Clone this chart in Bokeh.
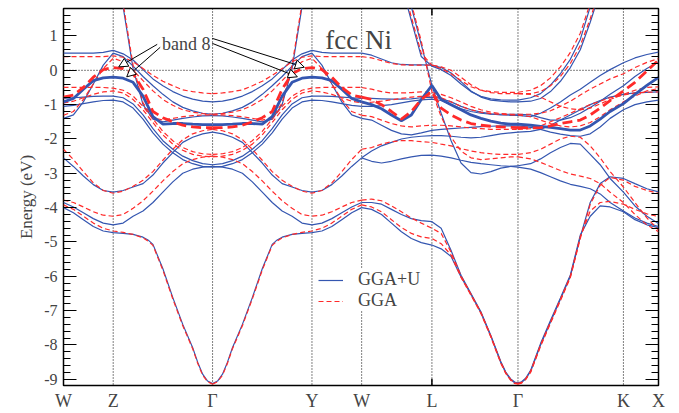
from bokeh.plotting import figure
from bokeh.models import (Range1d, LinearAxis, FixedTicker, SingleIntervalTicker, Span,
                          Legend, LegendItem, Label, Arrow, NormalHead, ColumnDataSource)
from bokeh.embed import file_html
from bokeh.resources import INLINE

# ---------------- data ----------------
SYM_LABELS = ["W", "Z", "Γ", "Y", "W", "L", "Γ", "K", "X"]
SYM_K = [0.0, 0.5, 1.5, 2.5, 3.0, 3.707, 4.573, 5.634, 5.987]
E_MIN, E_MAX = -9.18, 1.80
Y_TICKS = list(range(-9, 2))

# k grids of the four path segments (d bands)
K_WZG = [0.0, 0.1, 0.2, 0.3, 0.4, 0.5, 0.6, 0.7, 0.8, 0.9, 1.0, 1.1, 1.2, 1.3, 1.4, 1.5]
K_GYW = [1.5, 1.6, 1.7, 1.8, 1.9, 2.0, 2.1, 2.2, 2.3, 2.4, 2.5, 2.6, 2.7, 2.8, 2.9, 3.0]
K_WLG = [3.0, 3.1, 3.2, 3.3, 3.4, 3.5, 3.6, 3.707, 3.8, 3.9, 4.0, 4.1, 4.2, 4.3, 4.4, 4.5, 4.573]
K_GKX = [4.573, 4.7, 4.8, 4.9, 5.0, 5.1, 5.2, 5.3, 5.4, 5.5, 5.634, 5.75, 5.87, 5.987]

# finer k grids for the s-like bands with the deep minimum at Gamma
KS_WZG = [0.0, 0.1, 0.2, 0.3, 0.4, 0.5, 0.6, 0.7, 0.8, 0.85, 0.9, 1.0, 1.1, 1.2, 1.3, 1.35, 1.4, 1.45, 1.5]
KS_GYW = [1.5, 1.55, 1.6, 1.65, 1.7, 1.8, 1.9, 2.0, 2.1, 2.15, 2.2, 2.3, 2.4, 2.5, 2.6, 2.7, 2.8, 2.9, 3.0]
KS_WLG = [3.0, 3.1, 3.2, 3.3, 3.4, 3.5, 3.6, 3.707, 3.8, 3.9, 4.0, 4.1, 4.2, 4.3, 4.4, 4.45, 4.5, 4.54, 4.573]
KS_GKX = [4.573, 4.61, 4.65, 4.7, 4.8, 4.9, 5.0, 5.1, 5.2, 5.3, 5.4, 5.5, 5.634, 5.75, 5.87, 5.987]

# ---- GGA+U bands (eV) ----
GGAU_WZG = [
    [0.50, 0.50, 0.50, 0.50, 0.52, 0.58, 0.48, 0.30, 0.02, -0.25, -0.45, -0.62, -0.75, -0.84, -0.90, -0.92],
    [-1.40, -1.30, -0.92, -0.40, 0.15, 0.50, 0.40, 0.12, -0.18, -0.45, -0.70, -0.92, -1.08, -1.18, -1.25, -1.28],
    [-0.82, -0.80, -0.78, -0.76, -0.75, -0.75, -0.80, -0.98, -1.30, -1.70, -2.05, -2.30, -2.50, -2.63, -2.72, -2.75],
    [-1.05, -1.02, -0.97, -0.92, -0.88, -0.87, -0.92, -1.10, -1.42, -1.82, -2.15, -2.40, -2.60, -2.72, -2.80, -2.82],
    [-2.55, -2.80, -3.08, -3.33, -3.50, -3.55, -3.50, -3.40, -3.30, -3.05, -2.70, -2.40, -2.10, -1.95, -1.85, -1.80],
    [-3.85, -3.98, -4.15, -4.32, -4.45, -4.50, -4.45, -4.25, -4.10, -3.85, -3.55, -3.25, -3.00, -2.88, -2.82, -2.80],
    [5.0, 5.0, 5.0, 5.0, 4.5, 3.5, 1.85, 0.05, -1.00, -1.42, -1.50, -1.45, -1.40, -1.36, -1.33, -1.32],
]
GGAU8_WZG = [-0.92, -0.82, -0.55, -0.30, -0.22, -0.20, -0.23, -0.35, -0.75, -1.35, -1.57, -1.55, -1.55, -1.57, -1.58, -1.58]
GGAUS_WZG = [
    [-4.00, -4.15, -4.35, -4.55, -4.68, -4.73, -4.75, -4.78, -4.86, -4.94, -5.07, -5.78, -6.62, -7.40, -8.08, -8.50, -8.85, -9.05, -9.12],
]

GGAU_GYW = [
    [-0.92, -0.90, -0.84, -0.75, -0.62, -0.45, -0.25, 0.02, 0.30, 0.48, 0.58, 0.52, 0.50, 0.50, 0.50, 0.50],
    [-1.28, -1.25, -1.18, -1.08, -0.92, -0.70, -0.45, -0.18, 0.12, 0.40, 0.50, 0.15, -0.40, -0.92, -1.30, -1.40],
    [-2.75, -2.72, -2.63, -2.50, -2.30, -2.05, -1.70, -1.30, -0.98, -0.80, -0.75, -0.75, -0.76, -0.78, -0.80, -0.82],
    [-2.82, -2.80, -2.72, -2.60, -2.40, -2.15, -1.82, -1.42, -1.10, -0.92, -0.87, -0.88, -0.92, -0.97, -1.02, -1.05],
    [-1.80, -1.85, -1.95, -2.10, -2.40, -2.70, -3.05, -3.30, -3.40, -3.50, -3.55, -3.50, -3.33, -3.08, -2.80, -2.55],
    [-2.80, -2.82, -2.88, -3.00, -3.25, -3.55, -3.85, -4.10, -4.25, -4.45, -4.50, -4.45, -4.32, -4.15, -3.98, -3.85],
    [-1.32, -1.33, -1.36, -1.40, -1.45, -1.50, -1.42, -1.00, 0.05, 1.85, 3.5, 4.5, 5.0, 5.0, 5.0, 5.0],
]
GGAU8_GYW = [-1.58, -1.58, -1.57, -1.55, -1.55, -1.57, -1.35, -0.75, -0.35, -0.23, -0.20, -0.22, -0.30, -0.55, -0.82, -0.92]
GGAUS_GYW = [
    [-9.12, -9.05, -8.85, -8.50, -8.08, -7.40, -6.62, -5.78, -5.07, -4.94, -4.86, -4.78, -4.75, -4.73, -4.68, -4.55, -4.35, -4.15, -4.00],
]

GGAU_WLG = [
    [0.50, 0.44, 0.33, 0.22, 0.17, 0.16, 0.16, 0.15, 0.08, -0.08, -0.33, -0.60, -0.78, -0.87, -0.90, -0.92, -0.92],
    [5.0, 5.0, 5.0, 3.60, 2.50, 1.45, 0.40, 0.12, 0.02, -0.15, -0.40, -0.62, -0.76, -0.83, -0.86, -0.87, -0.87],
    [5.0, 5.0, 5.0, 4.00, 2.90, 1.85, 0.75, -0.44, -1.25, -2.05, -2.70, -2.98, -3.02, -2.95, -2.85, -2.80, -2.78],
    [-0.82, -0.82, -0.83, -0.84, -0.84, -0.83, -0.80, -0.78, -0.82, -0.92, -1.05, -1.15, -1.22, -1.27, -1.30, -1.31, -1.31],
    [-1.05, -1.05, -1.03, -1.00, -0.95, -0.90, -0.86, -0.84, -0.88, -1.00, -1.12, -1.20, -1.25, -1.28, -1.28, -1.28, -1.28],
    [-1.40, -1.45, -1.60, -1.75, -1.85, -1.88, -1.82, -1.75, -1.72, -1.70, -1.68, -1.66, -1.64, -1.63, -1.62, -1.62, -1.62],
    [-2.55, -2.35, -2.20, -2.10, -2.00, -1.95, -1.92, -1.90, -1.90, -1.92, -1.95, -1.97, -1.95, -1.90, -1.85, -1.82, -1.80],
    [-2.55, -2.65, -2.70, -2.65, -2.58, -2.52, -2.48, -2.47, -2.50, -2.55, -2.62, -2.68, -2.72, -2.75, -2.78, -2.80, -2.82],
]
GGAU8_WLG = [-0.92, -1.00, -1.12, -1.30, -1.47, -1.30, -0.85, -0.44, -0.85, -1.00, -1.15, -1.30, -1.40, -1.48, -1.54, -1.57, -1.57]
GGAUS_WLG = [
    [-3.85, -3.85, -3.90, -4.05, -4.20, -4.32, -4.38, -4.41, -4.60, -5.25, -5.97, -6.50, -7.03, -7.72, -8.48, -8.79, -8.99, -9.08, -9.10],
    [-4.00, -4.05, -4.20, -4.45, -4.70, -4.90, -5.02, -5.09, -5.20, -5.42, -6.02, -6.53, -7.06, -7.75, -8.51, -8.81, -9.01, -9.10, -9.12],
]

GGAU_GKX = [
    [-0.87, -0.80, -0.68, -0.43, -0.10, 0.32, 0.90, 1.85, 2.8, 3.6, 4.5, 5.0, 5.0, 5.0],
    [-0.92, -0.90, -0.82, -0.62, -0.32, 0.08, 0.60, 1.40, 2.3, 3.2, 4.2, 5.0, 5.0, 5.0],
    [-1.31, -1.35, -1.25, -1.10, -0.92, -0.72, -0.55, -0.35, -0.15, 0.02, 0.22, 0.36, 0.46, 0.53],
    [-1.28, -1.30, -1.38, -1.45, -1.45, -1.38, -1.25, -1.08, -0.90, -0.70, -0.45, -0.18, 0.05, 0.24],
    [-1.80, -1.78, -1.72, -1.60, -1.45, -1.30, -1.15, -1.00, -0.88, -0.78, -0.70, -0.66, -0.64, -0.63],
    [-1.62, -1.66, -1.72, -1.80, -1.86, -1.90, -1.92, -1.85, -1.65, -1.40, -1.15, -1.00, -0.92, -0.87],
    [-2.78, -2.72, -2.58, -2.40, -2.25, -2.13, -2.15, -2.45, -2.75, -3.15, -3.55, -3.95, -4.25, -4.46],
    [-2.82, -2.88, -2.98, -3.10, -3.22, -3.32, -3.38, -3.45, -3.60, -3.85, -4.10, -4.30, -4.45, -4.55],
]
GGAU8_GKX = [-1.57, -1.60, -1.63, -1.66, -1.70, -1.74, -1.74, -1.62, -1.42, -1.20, -0.97, -0.70, -0.44, -0.21]
GGAUS_GKX = [
    [-9.12, -9.09, -8.99, -8.77, -8.00, -7.33, -6.67, -6.00, -4.85, -3.85, -3.30, -3.10, -3.15, -3.30, -3.45, -3.54],
    [-9.10, -9.07, -8.97, -8.74, -7.96, -7.29, -6.63, -5.96, -4.80, -4.25, -3.95, -3.98, -4.12, -4.35, -4.50, -4.58],
]

# ---- GGA bands (eV) ----
GGA_WZG = [
    [0.40, 0.40, 0.40, 0.40, 0.40, 0.42, 0.38, 0.25, 0.05, -0.15, -0.32, -0.45, -0.57, -0.62, -0.66, -0.68],
    [-1.31, -1.20, -0.85, -0.40, 0.05, 0.35, 0.25, 0.00, -0.30, -0.60, -0.85, -1.02, -1.15, -1.22, -1.26, -1.28],
    [-0.50, -0.50, -0.50, -0.50, -0.50, -0.52, -0.58, -0.75, -1.05, -1.42, -1.78, -2.05, -2.25, -2.37, -2.43, -2.45],
    [-0.95, -0.90, -0.80, -0.70, -0.63, -0.60, -0.66, -0.85, -1.15, -1.52, -1.88, -2.15, -2.33, -2.45, -2.50, -2.52],
    [-2.30, -2.60, -2.95, -3.28, -3.50, -3.58, -3.52, -3.38, -3.20, -2.95, -2.62, -2.30, -2.02, -1.85, -1.76, -1.72],
    [-3.78, -3.85, -3.98, -4.12, -4.22, -4.25, -4.20, -4.02, -3.80, -3.52, -3.22, -2.95, -2.72, -2.60, -2.53, -2.50],
    [5.0, 5.0, 5.0, 5.0, 4.6, 3.6, 1.95, 0.15, -0.95, -1.38, -1.45, -1.40, -1.35, -1.32, -1.30, -1.30],
]
GGA8_WZG = [-0.78, -0.72, -0.50, -0.20, 0.02, 0.08, 0.05, -0.10, -0.55, -1.20, -1.38, -1.50, -1.60, -1.65, -1.67, -1.67]
GGAS_WZG = [
    [-3.92, -4.05, -4.25, -4.45, -4.60, -4.68, -4.72, -4.78, -4.88, -4.97, -5.10, -5.82, -6.66, -7.44, -8.11, -8.53, -8.88, -9.07, -9.14],
]

GGA_GYW = [
    [-0.68, -0.66, -0.62, -0.57, -0.45, -0.32, -0.15, 0.05, 0.25, 0.38, 0.42, 0.40, 0.40, 0.40, 0.40, 0.40],
    [-1.28, -1.26, -1.22, -1.15, -1.02, -0.85, -0.60, -0.30, 0.00, 0.25, 0.35, 0.05, -0.40, -0.85, -1.20, -1.31],
    [-2.45, -2.43, -2.37, -2.25, -2.05, -1.78, -1.42, -1.05, -0.75, -0.58, -0.52, -0.50, -0.50, -0.50, -0.50, -0.50],
    [-2.52, -2.50, -2.45, -2.33, -2.15, -1.88, -1.52, -1.15, -0.85, -0.66, -0.60, -0.63, -0.70, -0.80, -0.90, -0.95],
    [-1.72, -1.76, -1.85, -2.02, -2.30, -2.62, -2.95, -3.20, -3.38, -3.52, -3.58, -3.50, -3.28, -2.95, -2.60, -2.30],
    [-2.50, -2.53, -2.60, -2.72, -2.95, -3.22, -3.52, -3.80, -4.02, -4.20, -4.25, -4.22, -4.12, -3.98, -3.85, -3.78],
    [-1.30, -1.30, -1.32, -1.35, -1.40, -1.45, -1.38, -0.95, 0.15, 1.95, 3.6, 4.6, 5.0, 5.0, 5.0, 5.0],
]
GGA8_GYW = [-1.67, -1.67, -1.65, -1.60, -1.50, -1.38, -1.20, -0.55, -0.10, 0.05, 0.08, 0.02, -0.20, -0.50, -0.72, -0.78]
GGAS_GYW = [
    [-9.14, -9.07, -8.88, -8.53, -8.11, -7.44, -6.66, -5.82, -5.10, -4.97, -4.88, -4.78, -4.72, -4.68, -4.60, -4.45, -4.25, -4.05, -3.92],
]

GGA_WLG = [
    [0.40, 0.36, 0.28, 0.20, 0.16, 0.15, 0.15, 0.15, 0.10, 0.00, -0.20, -0.42, -0.58, -0.65, -0.68, -0.68, -0.68],
    [5.0, 5.0, 5.0, 3.70, 2.60, 1.55, 0.50, 0.15, 0.05, -0.10, -0.30, -0.48, -0.58, -0.62, -0.64, -0.64, -0.64],
    [5.0, 5.0, 5.0, 4.10, 3.00, 1.95, 0.85, -0.62, -1.35, -1.95, -2.35, -2.55, -2.60, -2.58, -2.55, -2.52, -2.52],
    [-0.50, -0.55, -0.62, -0.66, -0.66, -0.65, -0.63, -0.65, -0.70, -0.80, -0.92, -1.05, -1.15, -1.22, -1.26, -1.28, -1.28],
    [-0.95, -0.93, -0.90, -0.86, -0.82, -0.78, -0.76, -0.75, -0.80, -0.92, -1.05, -1.15, -1.22, -1.26, -1.28, -1.30, -1.30],
    [-1.31, -1.35, -1.45, -1.55, -1.62, -1.65, -1.62, -1.60, -1.60, -1.62, -1.65, -1.68, -1.70, -1.72, -1.72, -1.72, -1.72],
    [-2.30, -2.25, -2.15, -2.08, -2.05, -2.05, -2.08, -2.10, -2.15, -2.20, -2.28, -2.35, -2.40, -2.43, -2.45, -2.45, -2.45],
]
GGA8_WLG = [-0.78, -0.85, -1.00, -1.20, -1.42, -1.20, -0.85, -0.62, -1.10, -1.30, -1.45, -1.55, -1.60, -1.63, -1.65, -1.66, -1.67]
GGAS_WLG = [
    [-3.78, -3.75, -3.80, -3.95, -4.12, -4.30, -4.45, -4.60, -4.75, -5.30, -5.99, -6.52, -7.05, -7.74, -8.50, -8.81, -9.01, -9.10, -9.12],
    [-3.92, -3.98, -4.12, -4.35, -4.58, -4.75, -4.85, -4.90, -5.05, -5.38, -6.03, -6.55, -7.08, -7.77, -8.53, -8.83, -9.03, -9.12, -9.14],
]

GGA_GKX = [
    [-0.64, -0.58, -0.45, -0.22, 0.10, 0.52, 1.08, 1.95, 2.9, 3.7, 4.6, 5.0, 5.0, 5.0],
    [-0.68, -0.68, -0.62, -0.45, -0.18, 0.20, 0.72, 1.50, 2.4, 3.3, 4.3, 5.0, 5.0, 5.0],
    [-1.28, -1.28, -1.25, -1.18, -1.05, -0.90, -0.72, -0.55, -0.40, -0.25, -0.10, 0.08, 0.23, 0.34],
    [-0.68, -0.70, -0.78, -0.92, -1.05, -1.12, -1.15, -1.10, -0.98, -0.85, -0.70, -0.58, -0.50, -0.48],
    [-1.72, -1.70, -1.62, -1.50, -1.38, -1.25, -1.12, -1.00, -0.90, -0.80, -0.72, -0.66, -0.64, -0.63],
    [-1.30, -1.35, -1.45, -1.55, -1.62, -1.65, -1.62, -1.52, -1.35, -1.15, -0.92, -0.75, -0.60, -0.53],
    [-2.45, -2.40, -2.30, -2.15, -2.00, -1.92, -1.95, -2.20, -2.55, -2.95, -3.40, -3.85, -4.30, -4.65],
    [-2.52, -2.58, -2.68, -2.80, -2.92, -3.02, -3.08, -3.15, -3.30, -3.55, -3.85, -4.20, -4.50, -4.70],
]
GGA8_GKX = [-1.67, -1.68, -1.67, -1.62, -1.55, -1.50, -1.45, -1.30, -1.10, -0.88, -0.60, -0.35, -0.02, 0.30]
GGAS_GKX = [
    [-9.14, -9.11, -9.01, -8.80, -8.04, -7.37, -6.71, -6.04, -4.90, -3.90, -3.35, -3.12, -3.20, -3.38, -3.50, -3.58],
    [-9.12, -9.09, -8.99, -8.77, -8.00, -7.33, -6.67, -6.00, -4.85, -4.10, -3.85, -3.82, -3.90, -4.05, -4.18, -4.26],
]

# annotations
ARROW_K0 = [0.943, 0.973, 1.497, 1.497]
ARROW_E0 = [0.756, 0.670, 0.930, 0.785]
ARROW_K1 = [0.556, 0.636, 2.423, 2.353]
ARROW_E1 = [0.100, -0.190, 0.090, -0.190]

# ---------------- styles ----------------
BLUE = "#3456b0"
RED = "#ff2a2a"
SERIF = "Liberation Serif"

p = figure(frame_width=595, frame_height=377,
           x_range=Range1d(0, SYM_K[-1]), y_range=Range1d(E_MIN, E_MAX),
           output_backend="svg", toolbar_location=None,
           min_border_left=63, min_border_right=13, min_border_top=8, min_border_bottom=0)
p.grid.visible = False
p.outline_line_color = "black"
p.outline_line_width = 1.5
p.background_fill_color = "white"

# x axis (symmetry points)
p.xaxis.ticker = FixedTicker(ticks=SYM_K, minor_ticks=[])
p.xaxis.major_label_overrides = {k: lab for k, lab in zip(SYM_K, SYM_LABELS)}
p.xaxis.major_tick_in = 0
p.xaxis.major_tick_out = 0
p.xaxis.minor_tick_in = 0
p.xaxis.minor_tick_out = 0
p.xaxis.axis_line_color = None
p.xaxis.major_label_text_font = SERIF
p.xaxis.major_label_text_font_size = "18px"
p.xaxis.major_label_standoff = 5

# y axis
p.yaxis.ticker = SingleIntervalTicker(interval=1, num_minor_ticks=5)
p.yaxis.major_label_overrides = {t: str(t) for t in Y_TICKS}
p.yaxis.major_tick_in = 13
p.yaxis.major_tick_out = 0
p.yaxis.minor_tick_in = 7
p.yaxis.minor_tick_out = 0
p.yaxis.axis_line_color = None
p.yaxis.major_label_text_font = SERIF
p.yaxis.major_label_text_font_size = "16px"
p.yaxis.major_label_standoff = 6
p.yaxis.axis_label = "Energy (eV)"
p.yaxis.axis_label_text_font = SERIF
p.yaxis.axis_label_text_font_style = "normal"
p.yaxis.axis_label_text_font_size = "17px"
p.yaxis.axis_label_standoff = 5

ry = LinearAxis(ticker=SingleIntervalTicker(interval=1, num_minor_ticks=5))
ry.major_tick_in = 13
ry.major_tick_out = 0
ry.minor_tick_in = 7
ry.minor_tick_out = 0
ry.axis_line_color = None
ry.major_label_overrides = {t: "" for t in Y_TICKS}
ry.major_label_standoff = 0
p.add_layout(ry, "right")

# guide lines
for k in SYM_K[1:-1]:
    p.add_layout(Span(location=k, dimension="height", line_color="black",
                      line_width=1, line_dash="1 2", level="underlay"))
p.add_layout(Span(location=0, dimension="width", line_color="black",
                  line_width=1, line_dash="1 2", level="underlay"))

# small tick marks at L (top and bottom)
K_L = SYM_K[5]
p.segment(x0=[K_L, K_L], y0=[E_MIN, E_MAX], x1=[K_L, K_L], y1=[E_MIN + 0.2, E_MAX - 0.2],
          line_color="black", line_width=1.5)


def draw_band(ks, es, color, width, dash):
    src = ColumnDataSource(data=dict(k=ks, e=es))
    return p.line("k", "e", source=src, line_color=color, line_width=width, line_dash=dash)


segments = [
    (K_WZG, KS_WZG, GGAU_WZG, GGAUS_WZG, GGAU8_WZG, GGA_WZG, GGAS_WZG, GGA8_WZG),
    (K_GYW, KS_GYW, GGAU_GYW, GGAUS_GYW, GGAU8_GYW, GGA_GYW, GGAS_GYW, GGA8_GYW),
    (K_WLG, KS_WLG, GGAU_WLG, GGAUS_WLG, GGAU8_WLG, GGA_WLG, GGAS_WLG, GGA8_WLG),
    (K_GKX, KS_GKX, GGAU_GKX, GGAUS_GKX, GGAU8_GKX, GGA_GKX, GGAS_GKX, GGA8_GKX),
]

blue_r, red_r = [], []
for ks, kss, gu, gus, gu8, g, gs, g8 in segments:
    for band in gu:
        blue_r.append(draw_band(ks, band, BLUE, 1.2, "solid"))
    for band in gus:
        blue_r.append(draw_band(kss, band, BLUE, 1.2, "solid"))
    for band in g:
        red_r.append(draw_band(ks, band, RED, 1.2, "5 3"))
    for band in gs:
        red_r.append(draw_band(kss, band, RED, 1.2, "5 3"))
    blue_r.append(draw_band(ks, gu8, BLUE, 2.8, "solid"))
    red_r.append(draw_band(ks, g8, RED, 2.8, "10 5"))

legend = Legend(items=[LegendItem(label="GGA+U", renderers=[blue_r[0]]),
                       LegendItem(label="GGA", renderers=[red_r[0]])],
                location=(255, 74), orientation="vertical")
legend.label_text_font = SERIF
legend.label_text_font_size = "18px"
legend.glyph_width = 25
legend.glyph_height = 20
legend.label_height = 20
legend.label_width = 70
legend.label_standoff = 15
legend.spacing = 0
legend.padding = 8
legend.margin = 0
legend.border_line_color = None
legend.background_fill_color = "white"
legend.background_fill_alpha = 1.0
p.add_layout(legend)

# annotations
for x0, y0, x1, y1 in zip(ARROW_K0, ARROW_E0, ARROW_K1, ARROW_E1):
    p.add_layout(Arrow(end=NormalHead(size=9, fill_color="white", line_color="black", line_width=1),
                       x_start=x0, y_start=y0, x_end=x1, y_end=y1,
                       line_color="black", line_width=1))

p.add_layout(Label(x=0.99, y=0.776, text="band 8", text_font=SERIF, text_font_size="18px",
                   text_baseline="alphabetic", text_align="left"))
p.add_layout(Label(x=2.635, y=0.872, text="fcc Ni", text_font=SERIF, text_font_size="27px",
                   text_baseline="alphabetic", text_align="left"))

open("out.html", "w").write(file_html(p, INLINE))
